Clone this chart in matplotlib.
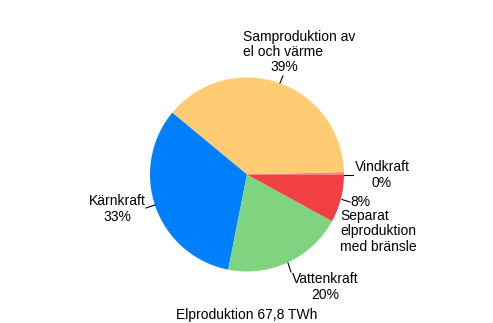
import matplotlib.pyplot as plt

plt.rcParams['font.family'] = ['Liberation Sans', 'DejaVu Sans']

# slices counterclockwise from 3 o'clock
labels = ['Vindkraft', 'Samproduktion av\nel och värme', 'Kärnkraft', 'Vattenkraft',
          'Separat\nelproduktion\nmed bränsle']
shares = [0.4, 38.6, 32.9, 20.1, 8.0]
colors = ['#FF8080', '#FFCC73', '#0080FF', '#80D480', '#F04044']
G_TITLE = 'Elproduktion 67,8 TWh'

W, H = 493, 323
FS = 10

fig = plt.figure(figsize=(W / 100, H / 100), dpi=100)
ax = fig.add_axes([0, 0, 1, 1])

def py(y):
    # pixel row (from top) -> data y
    return H - y

ax.pie(shares, colors=colors, startangle=0, counterclock=True,
       center=(247, py(174.5)), radius=97,
       wedgeprops={'linewidth': 0})

pct = [f'{round(v)}%' for v in shares]

# Samproduktion
ax.text(243, py(44.5), labels[1], ha='left', va='center', fontsize=FS, linespacing=1.1)
ax.text(284, py(67), pct[1], ha='center', va='center', fontsize=FS)
ax.plot([280, 283], [py(83), py(76)], color='black', lw=0.8)

# Vindkraft
ax.text(382, py(175), labels[0] + '\n' + pct[0], ha='center', va='center',
        fontsize=FS, multialignment='center', linespacing=1.1)
ax.plot([344, 353], [py(175), py(175)], color='black', lw=0.8)

# Separat
ax.text(350, py(202), pct[4], ha='left', va='center', fontsize=FS)
ax.text(340.5, py(231.5), labels[4], ha='left', va='center', fontsize=FS, linespacing=1.1)
ax.plot([342, 350], [py(199.5), py(202)], color='black', lw=0.8)

# Kärnkraft
ax.text(117.5, py(209), labels[2] + '\n' + pct[2], ha='center', va='center',
        fontsize=FS, multialignment='center', linespacing=1.1)
ax.plot([146, 155], [py(208), py(205)], color='black', lw=0.8)

# Vattenkraft
ax.text(325, py(287), labels[3] + '\n' + pct[3], ha='center', va='center',
        fontsize=FS, multialignment='center', linespacing=1.1)
ax.plot([288, 291], [py(263), py(272)], color='black', lw=0.8)

ax.text(246.5, py(315), G_TITLE, ha='center', va='center', fontsize=FS)

ax.set_xlim(0, W)
ax.set_ylim(0, H)
ax.set_aspect('auto')
ax.axis('off')

fig.savefig('out.png', dpi=100, facecolor='white')
